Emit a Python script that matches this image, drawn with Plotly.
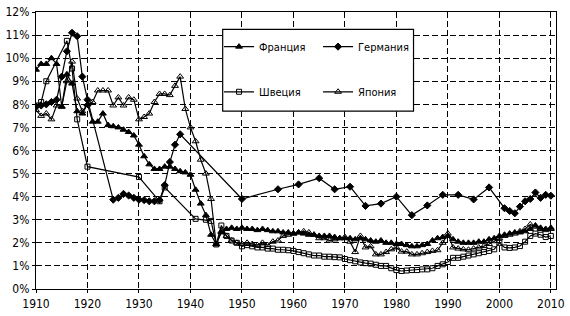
import plotly.graph_objects as go

# ---------------- data ----------------
france_years = list(range(1910, 2011))
france_vals = [9.5, 9.75, 9.75, 10.0, 9.75, 7.9, 9.3, 8.9, 7.7, 7.6,
               8.0, 7.25, 7.25, 7.6, 7.1, 7.05, 7.0, 6.9, 6.8, 6.65,
               6.25, 5.75, 5.4, 5.2, 5.2, 5.3, 5.3, 5.2, 5.1, 5.05,
               4.95, 4.3, 3.7, 3.2, 2.35, 1.95, 2.45, 2.6, 2.65, 2.6,
               2.65, 2.6, 2.6, 2.55, 2.6, 2.55, 2.5, 2.5, 2.45, 2.45,
               2.4, 2.45, 2.4, 2.35, 2.35, 2.3, 2.3, 2.3, 2.25, 2.2,
               2.2, 2.2, 2.15, 2.2, 2.15, 2.1, 2.05, 2.1, 2.0, 2.0,
               1.95, 1.95, 1.9, 1.85, 1.85, 1.9, 1.95, 2.1, 2.2, 2.25,
               2.3, 2.15, 2.05, 2.0, 2.0, 2.0, 2.05, 2.05, 2.15, 2.2,
               2.3, 2.35, 2.4, 2.45, 2.45, 2.5, 2.6, 2.75, 2.65, 2.6,
               2.65]

germany_years = [1910, 1911, 1912, 1913, 1914, 1915, 1916, 1917, 1918, 1919, 1920,
                 1925, 1926, 1927, 1928, 1929, 1930, 1931, 1932, 1933, 1934,
                 1935, 1936, 1937, 1938,
                 1950, 1957, 1961, 1965, 1968, 1971, 1974, 1977, 1980, 1983,
                 1986, 1989, 1992, 1995, 1998,
                 2001, 2002, 2003, 2004, 2005, 2006, 2007, 2008, 2009, 2010]
germany_vals = [7.9, 7.95, 8.0, 8.1, 8.2, 9.2, 10.3, 11.1, 10.95, 9.2, 8.2,
                3.87, 3.95, 4.12, 4.05, 3.95, 3.87, 3.85, 3.8, 3.8, 3.85,
                4.5, 5.5, 6.25, 6.7,
                3.9, 4.32, 4.53, 4.8, 4.32, 4.43, 3.6, 3.7, 4.0, 3.2,
                3.62, 4.08, 4.08, 3.88, 4.4,
                3.5, 3.38, 3.28, 3.57, 3.8, 3.9, 4.18, 3.95, 4.08, 4.04]

sweden_years = [1910, 1911, 1912, 1916, 1917, 1918, 1920, 1930, 1934, 1935,
                1941, 1943, 1944, 1945] + list(range(1946, 2011))
sweden_vals = [7.95, 8.1, 9.0, 10.75, 9.55, 7.35, 5.3, 4.85, 3.8, 4.4,
               3.04, 3.0, 2.95, 1.93,
               2.75, 2.3, 2.1, 2.0, 1.85, 1.9, 1.85, 1.8, 1.8, 1.75,
               1.75, 1.7, 1.7, 1.68, 1.65, 1.6, 1.55, 1.5, 1.45, 1.45,
               1.4, 1.4, 1.38, 1.37, 1.3, 1.25, 1.2, 1.15, 1.12, 1.1,
               1.05, 1.0, 1.0, 0.9, 0.82, 0.78, 0.8, 0.82, 0.82, 0.85,
               0.85, 0.9, 1.0, 1.07, 1.17, 1.35, 1.35, 1.4, 1.45, 1.5,
               1.55, 1.6, 1.65, 1.72, 2.0, 1.8, 1.78, 1.8, 1.86, 2.05,
               2.3, 2.4, 2.35, 2.25, 2.3]

japan_years = list(range(1910, 2011))
japan_vals = [7.75, 7.5, 7.6, 7.35, 7.95, 7.9, 9.0, 9.85, 8.25, 7.7,
              8.0, 8.1, 8.6, 8.6, 8.6, 7.95, 8.3, 7.95, 8.3, 8.2,
              7.35, 7.45, 7.6, 8.1, 8.45, 8.45, 8.4, 8.8, 9.2, 7.8,
              7.0, 6.4, 5.6, 5.0, 3.9, 1.93, 2.5, 2.3, 2.1, 2.0,
              1.95, 2.0, 1.95, 1.9, 2.0, 1.9, 2.05, 2.1, 2.3, 2.35,
              2.4, 2.45, 2.5, 2.45, 2.35, 2.2, 2.2, 2.1, 2.15, 2.2,
              2.25, 2.05, 1.6, 2.3, 1.8, 1.85, 1.5, 1.5, 1.6, 1.72,
              1.8, 1.62, 1.62, 1.5, 1.5, 1.55, 1.6, 1.65, 1.68, 2.0,
              2.4, 1.8, 1.75, 1.72, 1.7, 1.75, 1.8, 1.86, 1.95, 2.07,
              2.2, 2.3, 2.35, 2.4, 2.5, 2.6, 2.8, 2.7, 2.6, 2.55,
              2.6]

y_ticks = list(range(0, 13))
y_tick_labels = [f"{v}%" for v in y_ticks]
x_ticks = list(range(1910, 2011, 10))

# ---------------- figure ----------------
FONT = "Liberation Sans Narrow, DejaVu Sans Condensed, Arial Narrow, sans-serif"
fig = go.Figure()

def add(name, xs, ys, symbol, size, legend):
    fig.add_trace(go.Scatter(
        x=xs, y=ys, name=name, mode="lines+markers",
        line=dict(color="black", width=1.2),
        marker=dict(symbol=symbol, size=size, color="black",
                    line=dict(color="black", width=1)),
        legend=legend,
    ))

add("Франция", france_years, france_vals, "triangle-up", 6, "legend")
add("Германия", germany_years, germany_vals, "diamond", 5.5, "legend")
add("Швеция", sweden_years, sweden_vals, "square-open", 5, "legend2")
add("Япония", japan_years, japan_vals, "triangle-up-open", 6, "legend2")

axis_common = dict(
    showline=True, linecolor="black", linewidth=1.2, mirror=True,
    showgrid=True, gridcolor="black", gridwidth=1.1, griddash="6px,3px",
    ticks="outside", ticklen=3, tickcolor="black",
    zeroline=False, tickfont=dict(family=FONT, size=12, color="black"),
    ticklabeloverflow="allow",
)

fig.update_xaxes(range=[1910, 2011], tickvals=x_ticks, **axis_common)
fig.update_yaxes(range=[0, 12], tickvals=y_ticks, ticktext=y_tick_labels, **axis_common)

leg_common = dict(
    orientation="h", xanchor="left", yanchor="middle",
    bgcolor="rgba(0,0,0,0)", borderwidth=0,
    font=dict(family=FONT, size=11, color="black"),
    entrywidth=54, entrywidthmode="pixels", itemwidth=30,
)

fig.update_layout(
    width=570, height=316,
    margin=dict(l=33, r=11, t=5, b=23),
    paper_bgcolor="white", plot_bgcolor="white",
    showlegend=True,
    legend=dict(x=0.352, y=0.875, **leg_common),
    legend2=dict(x=0.352, y=0.712, **leg_common),
    shapes=[dict(type="rect", xref="paper", yref="paper",
                 x0=0.359, x1=0.726, y0=0.642, y1=0.9375,
                 line=dict(color="black", width=1.2),
                 fillcolor="white", layer="above")],
)

fig.write_html("out.html")
